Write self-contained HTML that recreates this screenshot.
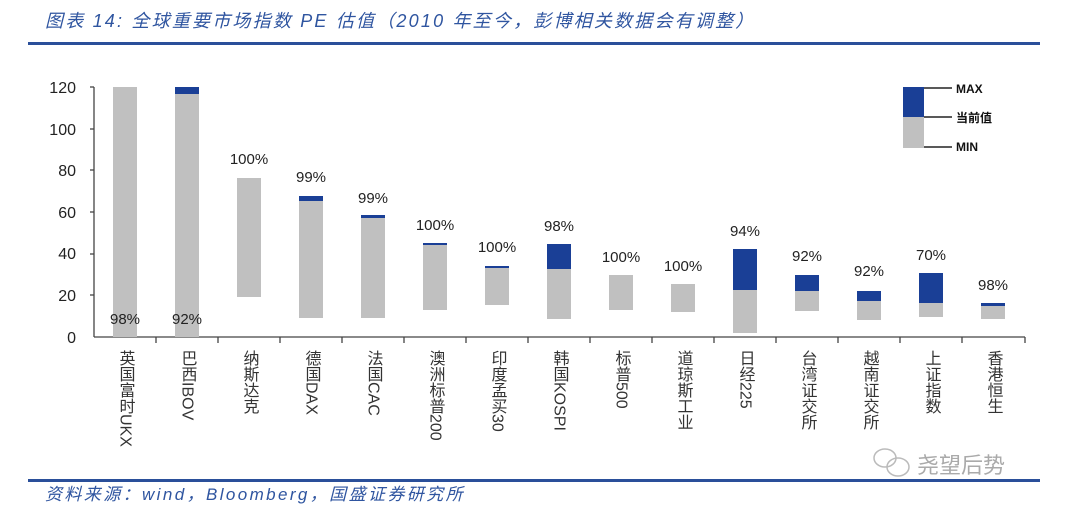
<!DOCTYPE html>
<html><head><meta charset="utf-8"><style>
html,body{margin:0;padding:0;background:#fff;}
svg{display:block;}
.t{font-family:"Liberation Sans","Noto Sans CJK SC",sans-serif;}
</style></head><body>
<svg width="1080" height="515" viewBox="0 0 1080 515" xmlns="http://www.w3.org/2000/svg">
<text x="45" y="27" class="t" font-size="18" font-style="italic" fill="#2f55a0" letter-spacing="2.2">图表 14:  全球重要市场指数 PE 估值（2010 年至今，彭博相关数据会有调整）</text>
<rect x="28" y="42" width="1012" height="3" fill="#2a4f9a"/>
<rect x="28" y="479" width="1012" height="3" fill="#2a4f9a"/>
<text x="45" y="500" class="t" font-size="17" font-style="italic" fill="#2f55a0" letter-spacing="2.4">资料来源：wind，Bloomberg，国盛证券研究所</text>
<g class="t" font-size="16" fill="#222" text-anchor="end">
<text x="76" y="93">120</text><text x="76" y="135">100</text><text x="76" y="176">80</text>
<text x="76" y="218">60</text><text x="76" y="259">40</text><text x="76" y="301">20</text><text x="76" y="343">0</text>
</g>
<g stroke="#444" stroke-width="1.3" fill="none">
<line x1="94" y1="87" x2="94" y2="337"/>
<line x1="94" y1="337" x2="1025" y2="337"/>
<line x1="90" y1="87" x2="94" y2="87"/><line x1="90" y1="129" x2="94" y2="129"/><line x1="90" y1="170" x2="94" y2="170"/><line x1="90" y1="212" x2="94" y2="212"/><line x1="90" y1="254" x2="94" y2="254"/><line x1="90" y1="295" x2="94" y2="295"/>
<path d="M156 337v6M218 337v6M280 337v6M342 337v6M404 337v6M466 337v6M528 337v6M590 337v6M652 337v6M714 337v6M776 337v6M838 337v6M900 337v6M962 337v6M1025 337v6"/>
</g>
<g fill="#c0c0c0">
<rect x="113" y="87" width="24" height="250"/>
<rect x="175" y="94" width="24" height="243"/>
<rect x="237" y="178" width="24" height="119"/>
<rect x="299" y="201" width="24" height="117"/>
<rect x="361" y="218" width="24" height="100"/>
<rect x="423" y="245" width="24" height="65"/>
<rect x="485" y="268" width="24" height="37"/>
<rect x="547" y="269" width="24" height="50"/>
<rect x="609" y="275" width="24" height="35"/>
<rect x="671" y="284" width="24" height="28"/>
<rect x="733" y="290" width="24" height="43"/>
<rect x="795" y="291" width="24" height="20"/>
<rect x="857" y="301" width="24" height="19"/>
<rect x="919" y="303" width="24" height="14"/>
<rect x="981" y="306" width="24" height="13"/>
</g>
<g fill="#1a3f96">
<rect x="175" y="87" width="24" height="7"/>
<rect x="299" y="196" width="24" height="5"/>
<rect x="361" y="215" width="24" height="3"/>
<rect x="423" y="243" width="24" height="2"/>
<rect x="485" y="266" width="24" height="2"/>
<rect x="547" y="244" width="24" height="25"/>
<rect x="733" y="249" width="24" height="41"/>
<rect x="795" y="275" width="24" height="16"/>
<rect x="857" y="291" width="24" height="10"/>
<rect x="919" y="273" width="24" height="30"/>
<rect x="981" y="303" width="24" height="3"/>
</g>
<g class="t" font-size="15" fill="#222" text-anchor="middle">
<text x="125" y="324">98%</text><text x="187" y="324">92%</text>
<text x="249" y="164">100%</text><text x="311" y="182">99%</text><text x="373" y="203">99%</text>
<text x="435" y="230">100%</text><text x="497" y="252">100%</text><text x="559" y="231">98%</text>
<text x="621" y="262">100%</text><text x="683" y="271">100%</text><text x="745" y="236">94%</text>
<text x="807" y="261">92%</text><text x="869" y="276">92%</text><text x="931" y="260">70%</text>
<text x="993" y="290">98%</text>
</g>
<g class="t" font-size="16" fill="#333" style="writing-mode:vertical-rl;text-orientation:mixed">
<text x="125" y="350">英国富时UKX</text>
<text x="187" y="350">巴西IBOV</text>
<text x="249" y="350">纳斯达克</text>
<text x="311" y="350">德国DAX</text>
<text x="373" y="350">法国CAC</text>
<text x="435" y="350">澳洲标普200</text>
<text x="497" y="350">印度孟买30</text>
<text x="559" y="350">韩国KOSPI</text>
<text x="621" y="350">标普500</text>
<text x="683" y="350">道琼斯工业</text>
<text x="745" y="350">日经225</text>
<text x="807" y="350">台湾证交所</text>
<text x="869" y="350">越南证交所</text>
<text x="931" y="350">上证指数</text>
<text x="993" y="350">香港恒生</text>
</g>
<rect x="903" y="87" width="21" height="30" fill="#1a3f96"/>
<rect x="903" y="117" width="21" height="31" fill="#c0c0c0"/>
<g stroke="#222" stroke-width="1.5"><line x1="924" y1="88" x2="952" y2="88"/><line x1="924" y1="117" x2="952" y2="117"/><line x1="924" y1="147" x2="952" y2="147"/></g>
<g class="t" font-size="12" font-weight="bold" fill="#111">
<text x="956" y="93">MAX</text><text x="956" y="122">当前值</text><text x="956" y="151">MIN</text>
</g>
<g fill="none" stroke="#bbb" stroke-width="1.5"><ellipse cx="885" cy="458" rx="11" ry="9"/><ellipse cx="898" cy="467" rx="11" ry="9"/></g>
<text x="917" y="473" class="t" font-size="22" fill="#aaa">尧望后势</text>
</svg>
</body></html>
